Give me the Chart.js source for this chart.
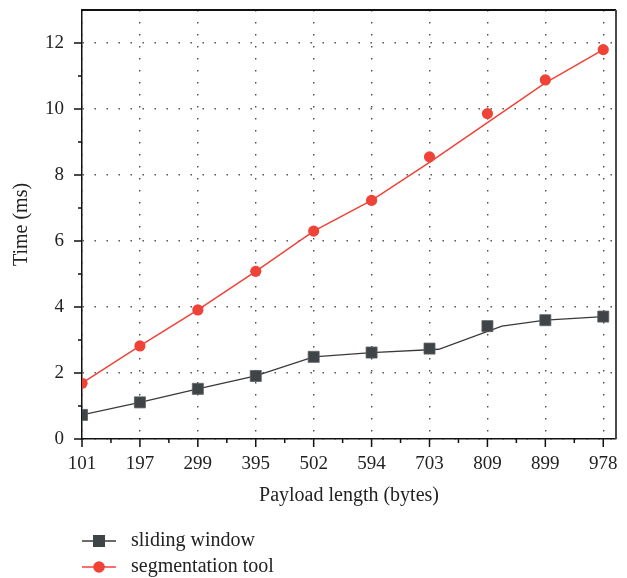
<!DOCTYPE html>
<html>
<head>
<meta charset="utf-8">
<script src="https://cdn.jsdelivr.net/npm/chart.js@4"></script>
<style>
  html, body { margin: 0; padding: 0; background: #fff; }
  #wrap { width: 627px; height: 578px; }
</style>
</head>
<body>
<div id="wrap"><canvas id="timeChart" width="627" height="578"></canvas></div>
<script>
// payload sizes (bytes), one category per tick
const payloadLabels = ["101", "197", "299", "395", "502", "594", "703", "809", "899", "978"];

// measured times (ms)
const slidingWindow = [0.73, 1.11, 1.52, 1.91, 2.49, 2.62, 2.74, 3.42, 3.60, 3.71];
const segmentationTool = [1.69, 2.82, 3.91, 5.08, 6.30, 7.23, 8.55, 9.86, 10.88, 11.80];

// trend lines drawn under the markers
const slidingLineX = [0, 1, 2, 3, 4, 5, 6.16, 7.25, 8, 9];
const slidingLineY = [0.73, 1.11, 1.52, 1.91, 2.49, 2.62, 2.72, 3.42, 3.60, 3.71];
const segmentLineY = [1.69, 2.82, 3.91, 5.08, 6.30, 7.23, 8.38, 9.59, 10.79, 11.80];

const yTicks = [0, 2, 4, 6, 8, 10, 12];

const darkColor = "#3f4547";
const darkLine = "#3a3a3a";
const redColor = "#ef4338";
const gridColor = "#4a4a4a";
const fontFamily = "'Liberation Serif', 'DejaVu Serif', serif";

const toPoints = (xs, ys) => ys.map((y, i) => ({ x: xs[i], y: y }));
const idx = payloadLabels.map((_, i) => i);

// tick marks, frame and legend
const framePlugin = {
  id: "frame",
  afterDraw(chart) {
    const ctx = chart.ctx;
    const a = chart.chartArea;
    const xs = chart.scales.x;
    const ys = chart.scales.y;
    ctx.save();
    ctx.strokeStyle = "#111";
    ctx.lineWidth = 1.5;
    ctx.beginPath();
    for (let i = 0; i < payloadLabels.length; i++) {
      const px = xs.getPixelForValue(i);
      ctx.moveTo(px, a.bottom);
      ctx.lineTo(px, a.bottom + 8);
      if (i < payloadLabels.length - 1) {
        const hx = xs.getPixelForValue(i + 0.5);
        ctx.moveTo(hx, a.bottom);
        ctx.lineTo(hx, a.bottom + 4);
      }
    }
    for (let v = 0; v <= 12; v++) {
      const py = ys.getPixelForValue(v);
      ctx.moveTo(a.left, py);
      ctx.lineTo(a.left - (v % 2 === 0 ? 8 : 4), py);
    }
    ctx.stroke();

    // top and right edges of the plot box
    ctx.beginPath();
    ctx.lineWidth = 2;
    ctx.strokeStyle = "#111";
    ctx.moveTo(a.left, a.top);
    ctx.lineTo(a.right, a.top);
    ctx.stroke();
    ctx.beginPath();
    ctx.strokeStyle = "#4a4a4a";
    ctx.moveTo(a.right, a.top);
    ctx.lineTo(a.right, a.bottom);
    ctx.stroke();

    // legend
    const items = [
      { text: "sliding window", color: darkLine, fill: darkColor, style: "rect", y: 541 },
      { text: "segmentation tool", color: redColor, fill: redColor, style: "circle", y: 567 }
    ];
    items.forEach((it) => {
      ctx.beginPath();
      ctx.strokeStyle = it.color;
      ctx.lineWidth = 1.5;
      ctx.moveTo(82, it.y);
      ctx.lineTo(116, it.y);
      ctx.stroke();
      ctx.fillStyle = it.fill;
      if (it.style === "rect") {
        ctx.fillRect(99 - 6, it.y - 6, 12, 12);
      } else {
        ctx.beginPath();
        ctx.arc(99, it.y, 5.8, 0, Math.PI * 2);
        ctx.fill();
      }
      ctx.fillStyle = "#222";
      ctx.font = "20px " + fontFamily;
      ctx.textBaseline = "middle";
      ctx.textAlign = "left";
      ctx.fillText(it.text, 131, it.y);
    });
    ctx.restore();
  }
};

function createChart() {
  const ctx = document.getElementById("timeChart").getContext("2d");

  new Chart(ctx, {
    type: "scatter",
    data: {
      datasets: [
        {
          label: "sliding window line",
          data: toPoints(slidingLineX, slidingLineY),
          showLine: true,
          borderColor: darkLine,
          borderWidth: 1.3,
          pointRadius: 0,
          order: 4
        },
        {
          label: "segmentation tool line",
          data: toPoints(idx, segmentLineY),
          showLine: true,
          borderColor: redColor,
          borderWidth: 1.5,
          pointRadius: 0,
          order: 3
        },
        {
          label: "sliding window",
          data: toPoints(idx, slidingWindow),
          pointStyle: "rect",
          pointRadius: 7.8,
          backgroundColor: darkColor,
          borderColor: "#5a6062",
          borderWidth: 0.8,
          order: 2
        },
        {
          label: "segmentation tool",
          data: toPoints(idx, segmentationTool),
          pointStyle: "circle",
          pointRadius: 5.6,
          backgroundColor: redColor,
          borderColor: redColor,
          borderWidth: 0,
          order: 1
        }
      ]
    },
    options: {
      responsive: false,
      animation: false,
      layout: { padding: { top: 10, right: 11, bottom: 69, left: 0 } },
      plugins: {
        legend: { display: false },
        tooltip: { enabled: false }
      },
      scales: {
        x: {
          type: "linear",
          min: 0,
          max: 9.22,
          afterFit: (s) => {
            s.height = 70;
            s.paddingLeft = 0;
            s.paddingRight = 0;
          },
          afterBuildTicks: (s) => { s.ticks = idx.map((v) => ({ value: v })); },
          ticks: {
            autoSkip: false,
            maxRotation: 0,
            padding: 14,
            color: "#222",
            font: { family: fontFamily, size: 19 },
            callback: (v) => payloadLabels[v]
          },
          grid: {
            drawTicks: false,
            color: gridColor,
            lineWidth: 1.4
          },
          border: { display: true, color: "#111", width: 1.5, dash: [1.4, 10.6] },
          title: {
            display: true,
            text: "Payload length (bytes)",
            color: "#222",
            font: { family: fontFamily, size: 20 },
            padding: { top: 0, bottom: 1 }
          }
        },
        y: {
          min: 0,
          max: 13,
          afterFit: (s) => {
            s.width = 82;
            s.paddingTop = 0;
            s.paddingBottom = 0;
          },
          afterBuildTicks: (s) => { s.ticks = yTicks.map((v) => ({ value: v })); },
          ticks: {
            padding: 18,
            color: "#222",
            font: { family: fontFamily, size: 19 }
          },
          grid: {
            drawTicks: false,
            color: gridColor,
            lineWidth: 1.4
          },
          border: { display: true, color: "#111", width: 1.5, dash: [1.4, 10.6] },
          title: {
            display: true,
            text: "Time (ms)",
            color: "#222",
            font: { family: fontFamily, size: 20 },
            padding: { top: 10, bottom: 0 }
          }
        }
      }
    },
    plugins: [framePlugin]
  });
}

document.addEventListener("DOMContentLoaded", createChart);
</script>
</body>
</html>
